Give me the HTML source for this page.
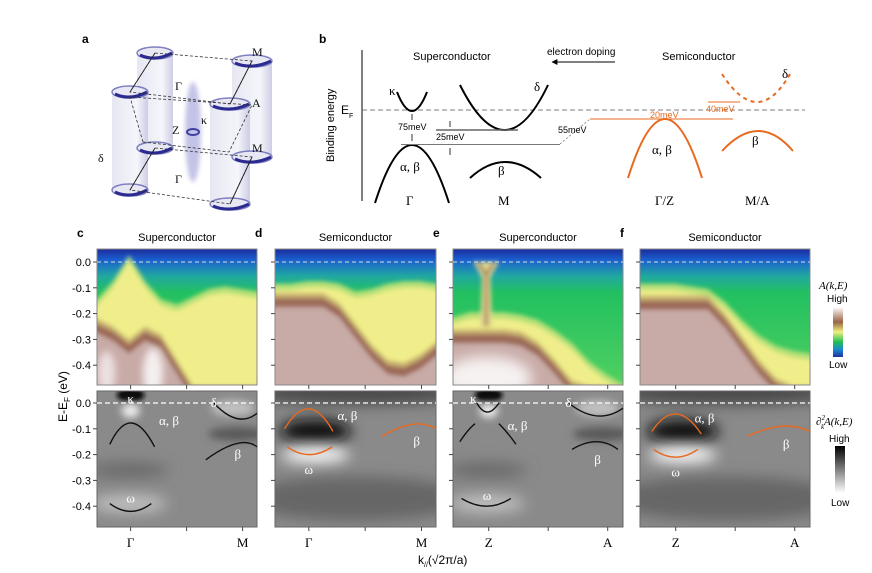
<!DOCTYPE html>
<html><head><meta charset="utf-8">
<style>
html,body{margin:0;padding:0;background:#fff;}
svg{display:block;font-family:"Liberation Sans",sans-serif;}
.serif{font-family:"Liberation Serif","DejaVu Serif",serif;}
</style></head>
<body>
<svg id="fig" width="872" height="573" viewBox="0 0 872 573" xmlns="http://www.w3.org/2000/svg">
<defs>
  <linearGradient id="cbarTop" x1="0" y1="1" x2="0" y2="0">
    <stop offset="0" stop-color="#2030a0"/><stop offset="0.15" stop-color="#1a8ad0"/>
    <stop offset="0.3" stop-color="#20c050"/><stop offset="0.5" stop-color="#f0f080"/>
    <stop offset="0.7" stop-color="#9a6448"/><stop offset="1" stop-color="#ffffff"/>
  </linearGradient>
  <linearGradient id="cbarBot" x1="0" y1="0" x2="0" y2="1">
    <stop offset="0" stop-color="#000"/><stop offset="1" stop-color="#fff"/>
  </linearGradient>
  <linearGradient id="bgTop" x1="0" y1="0" x2="0" y2="1">
    <stop offset="0" stop-color="#1c2a9a"/><stop offset="0.08" stop-color="#1a60d0"/>
    <stop offset="0.2" stop-color="#20a8a0"/><stop offset="0.32" stop-color="#22c060"/><stop offset="1" stop-color="#50d060"/>
  </linearGradient>
  <linearGradient id="cyl" x1="0" y1="0" x2="1" y2="0">
    <stop offset="0" stop-color="#e4e4f2"/><stop offset="0.7" stop-color="#f4f4fa"/><stop offset="1" stop-color="#c8c8e2"/>
  </linearGradient>
  <filter id="blur2" x="-20%" y="-20%" width="140%" height="140%"><feGaussianBlur stdDeviation="2"/></filter>
  <filter id="blur4" x="-100%" y="-200%" width="300%" height="500%"><feGaussianBlur stdDeviation="4"/></filter>
  <filter id="blur7" x="-100%" y="-300%" width="300%" height="700%"><feGaussianBlur stdDeviation="7"/></filter>
  <marker id="arr" viewBox="0 0 10 10" refX="9" refY="5" markerWidth="6" markerHeight="6" orient="auto"><path d="M0,0 L10,5 L0,10 z" fill="#000"/></marker>
</defs>

<!-- Panel a -->
<g>
  <text x="82" y="43" font-size="12" font-weight="bold">a</text>
  <rect x="137" y="52" width="36" height="96" fill="url(#cyl)" opacity="0.9"/>
  <rect x="232" y="60" width="40" height="97" fill="url(#cyl)" opacity="0.9"/>
  <rect x="112" y="92" width="36" height="98" fill="url(#cyl)" opacity="0.9"/>
  <rect x="210" y="104" width="40" height="100" fill="url(#cyl)" opacity="0.9"/>
  <g fill="#e8e8f4" stroke="#5050a8" stroke-width="1.5" stroke-opacity="0.7">
    <ellipse cx="155" cy="53" rx="18" ry="6"/><ellipse cx="252" cy="61" rx="20" ry="6"/>
    <ellipse cx="130" cy="92" rx="18" ry="6"/><ellipse cx="230" cy="104" rx="20" ry="6"/>
    <ellipse cx="155" cy="148" rx="18" ry="6"/><ellipse cx="252" cy="157" rx="20" ry="6"/>
    <ellipse cx="130" cy="190" rx="18" ry="6"/><ellipse cx="230" cy="204" rx="20" ry="6"/>
  </g>
  <g fill="none" stroke="#2a2a90" stroke-width="3">
    <path d="M140,55 Q155,62 172,53"/><path d="M235,63 Q252,70 271,61"/>
    <path d="M115,94 Q130,101 147,92"/><path d="M213,106 Q230,113 249,104"/>
    <path d="M140,150 Q155,157 172,148"/><path d="M235,159 Q252,166 271,157"/>
    <path d="M115,192 Q130,199 147,190"/><path d="M213,206 Q230,213 249,204"/>
  </g>
  <ellipse cx="193" cy="132" rx="8" ry="50" fill="#9c9cd8" opacity="0.6" filter="url(#blur2)"/>
  <ellipse cx="193" cy="132" rx="6" ry="3" fill="none" stroke="#4040a0" stroke-width="2"/>
  <g fill="none" stroke="#333" stroke-width="0.8" stroke-dasharray="3,2">
    <path d="M155,53 L252,61 L230,104 L130,92 Z"/>
    <path d="M155,148 L252,157 L230,204 L130,190 Z"/>
    <path d="M143,142 L130,97 L252,105 L229,152 Z"/>
  </g>
  <g fill="none" stroke="#222" stroke-width="0.9">
    <line x1="155" y1="53" x2="130" y2="92"/><line x1="252" y1="61" x2="230" y2="104"/>
    <line x1="155" y1="148" x2="130" y2="190"/><line x1="252" y1="157" x2="230" y2="204"/>
  </g>
  <g class="serif" font-size="12" fill="#111">
    <text x="252" y="56">M</text><text x="252" y="152">M</text><text x="252" y="107">A</text>
    <text x="175" y="90">Γ</text><text x="175" y="183">Γ</text><text x="172" y="134">Z</text>
    <text x="201" y="124">κ</text><text x="98" y="162">δ</text>
  </g>
</g>

<!-- Panel b -->
<g>
  <text x="319" y="43" font-size="12" font-weight="bold">b</text>
  <line x1="362" y1="50" x2="362" y2="201" stroke="#000" stroke-width="1"/>
  <text transform="translate(334,162) rotate(-90)" font-size="11">Binding energy</text>
  <text x="341" y="114" font-size="12">E<tspan font-size="7" dy="4">F</tspan></text>
  <line x1="362" y1="110" x2="805" y2="110" stroke="#555" stroke-width="0.8" stroke-dasharray="5,3"/>
  <text x="413" y="60" font-size="11">Superconductor</text>
  <text x="547" y="55" font-size="10">electron doping</text>
  <line x1="615" y1="62" x2="552" y2="62" stroke="#000" stroke-width="1" marker-end="url(#arr)"/>
  <text x="662" y="60" font-size="11">Semiconductor</text>
  <g fill="none" stroke="#000" stroke-width="2">
    <path d="M397,92 Q412,130 427,92"/>
    <path d="M375,203 Q412,87 449,203"/>
    <path d="M460,85 Q505,175 548,85"/>
    <path d="M470,178 Q505,146 541,178"/>
  </g>
  <line x1="436" y1="130" x2="518" y2="130" stroke="#666" stroke-width="1.5"/>
  <line x1="401" y1="144.5" x2="560" y2="144.5" stroke="#777" stroke-width="1"/>
  <line x1="560" y1="144" x2="590" y2="119" stroke="#777" stroke-width="0.8" stroke-dasharray="2,2"/>
  <line x1="590" y1="119" x2="733" y2="119" stroke="#e86a20" stroke-width="1"/>
  <line x1="708" y1="102" x2="740" y2="102" stroke="#e86a20" stroke-width="1"/>
  <g font-size="9">
    <text x="398" y="130">75meV</text><text x="436" y="140">25meV</text><text x="558" y="133">55meV</text>
  </g>
  <g font-size="9" fill="#e86a20"><text x="650" y="118">20meV</text><text x="706" y="112">40meV</text></g>
  <g stroke="#000" stroke-width="0.8"><line x1="412" y1="114" x2="412" y2="120"/><line x1="412" y1="134" x2="412" y2="141"/><line x1="450" y1="121" x2="450" y2="127"/><line x1="450" y1="148" x2="450" y2="155"/></g>
  <g fill="none" stroke="#e86a20" stroke-width="2">
    <path d="M628,178 Q665,60 702,178"/>
    <path d="M722,151 Q759,111 793,151"/>
    <path d="M722,74 Q758,130 790,74" stroke-dasharray="4,4"/>
  </g>
  <g class="serif" font-size="13">
    <text x="389" y="95">κ</text><text x="534" y="91">δ</text><text x="400" y="171">α, β</text><text x="498" y="175">β</text>
    <text x="652" y="154">α, β</text><text x="752" y="145">β</text><text x="782" y="78">δ</text>
    <text x="406" y="205">Γ</text><text x="498" y="205">M</text><text x="655" y="205">Γ/Z</text><text x="745" y="205">M/A</text>
  </g>
</g>

<g id="panels"></g>

<!-- Axis titles & colorbars -->
<text transform="translate(67,422) rotate(-90)" font-size="12">E-E<tspan font-size="8" dy="3">F</tspan><tspan dy="-3"> (eV)</tspan></text>
<text x="418" y="564" font-size="12">k<tspan font-size="7" dy="3">//</tspan><tspan dy="-3">(√2π/a)</tspan></text>

<g>
  <text x="819" y="289" font-size="11" class="serif" font-style="italic">A(k,E)</text>
  <text x="827" y="302" font-size="10">High</text>
  <rect x="833" y="307" width="10" height="50" fill="url(#cbarTop)"/>
  <text x="829" y="368" font-size="10">Low</text>
</g>
<g>
  <text x="816" y="425" font-size="11" class="serif" font-style="italic">∂<tspan font-size="7" dy="-5">2</tspan><tspan font-size="7" dx="-4" dy="9">k</tspan><tspan dy="-4">A(k,E)</tspan></text>
  <text x="829" y="442" font-size="10">High</text>
  <rect x="835" y="446" width="10" height="47" fill="url(#cbarBot)"/>
  <text x="831" y="506" font-size="10">Low</text>
</g>

<script>
// ===== data =====
const panelLetters = ["c","d","e","f"];
const panelTitles = ["Superconductor","Semiconductor","Superconductor","Semiconductor"];
const kLabelsLeft = ["Γ","Γ","Z","Z"];
const kLabelsRight = ["M","M","A","A"];
const energyTicks = [0.0,-0.1,-0.2,-0.3,-0.4];
const tickLabels = ["0.0","-0.1","-0.2","-0.3","-0.4"];
const kSamples = [0,0.1,0.2,0.3,0.4,0.5,0.6,0.7,0.8,0.9,1.0];
// yellow onset energy (eV) per panel
const yellowC = [-0.17,-0.10,0.0,-0.10,-0.17,-0.19,-0.16,-0.13,-0.12,-0.13,-0.14];
const yellowD = [-0.11,-0.11,-0.10,-0.10,-0.11,-0.14,-0.13,-0.11,-0.10,-0.10,-0.11];
const yellowE = [-0.24,-0.22,-0.22,-0.22,-0.23,-0.25,-0.29,-0.34,-0.41,-0.46,-0.50];
const yellowF = [-0.11,-0.11,-0.11,-0.12,-0.13,-0.18,-0.25,-0.31,-0.35,-0.37,-0.38];
// brown onset energy (eV) per panel
const brownC = [-0.24,-0.27,-0.32,-0.27,-0.30,-0.40,-0.50,-0.50,-0.50,-0.50,-0.50];
const brownD = [-0.14,-0.14,-0.14,-0.14,-0.18,-0.26,-0.34,-0.40,-0.41,-0.38,-0.33];
const brownE = [-0.28,-0.28,-0.28,-0.28,-0.29,-0.33,-0.40,-0.48,-0.50,-0.50,-0.50];
const brownF = [-0.15,-0.15,-0.15,-0.15,-0.15,-0.22,-0.31,-0.40,-0.47,-0.50,-0.50];
// overlay band curves: [k0,E0,k1,E1,k2,E2] (start, control-peak, end)
const curvesC = [[0.08,-0.16,0.21,0.01,0.36,-0.17],[0.08,-0.39,0.21,-0.45,0.34,-0.39],[0.73,0.0,0.88,-0.10,1.0,-0.04],[0.68,-0.22,0.9,-0.12,1.0,-0.17]];
const curvesD = [[0.06,-0.10,0.21,0.06,0.36,-0.11],[0.075,-0.17,0.21,-0.23,0.355,-0.17],[0.66,-0.13,0.88,-0.05,1.0,-0.10]];
const curvesE = [[0.14,0.0,0.2,-0.07,0.27,0.0],[0.04,-0.15,0.09,-0.10,0.13,-0.08],[0.27,-0.08,0.33,-0.12,0.37,-0.16],[0.05,-0.37,0.2,-0.43,0.34,-0.37],[0.68,0.0,0.85,-0.09,1.0,-0.02],[0.7,-0.18,0.85,-0.12,0.97,-0.18]];
const curvesF = [[0.07,-0.11,0.21,0.03,0.36,-0.12],[0.08,-0.18,0.21,-0.24,0.34,-0.18],[0.63,-0.13,0.85,-0.06,1.0,-0.11]];
const curveColors = ["#111","#e86a20","#111","#e86a20"];

const yellowSets=[yellowC,yellowD,yellowE,yellowF];
const brownSets=[brownC,brownD,brownE,brownF];
const curveSets=[curvesC,curvesD,curvesE,curvesF];
const panelX=[97,275,453,640], panelW=[160,161,170,170];
const topY0=262, botY0=403, pxPerEv=258, topTop=249, topBot=385, botTop=391, botBot=527;
const NS="http://www.w3.org/2000/svg";
const root=document.getElementById("panels");
function mk(tag,attrs,parent){const e=document.createElementNS(NS,tag);for(const k in attrs)e.setAttribute(k,attrs[k]);(parent||root).appendChild(e);return e;}
function xs(i,k){return panelX[i]+k*panelW[i];}
function ysTop(E){return topY0-E*pxPerEv;}
function ysBot(E){return botY0-E*pxPerEv;}
function regionPath(i,arr){
  let d="M"+(xs(i,0)-10)+","+(topBot+20)+" L"+(xs(i,0)-10)+","+ysTop(arr[0]);
  kSamples.forEach((k,j)=>{d+=" L"+xs(i,k)+","+Math.min(ysTop(arr[j]),topBot+20);});
  d+=" L"+(xs(i,1)+10)+","+ysTop(arr[arr.length-1])+" L"+(xs(i,1)+10)+","+(topBot+20)+" Z";return d;
}
panelX.forEach((px,i)=>{
  const w=panelW[i];
  const g=mk("g",{});
  
  
  const lt=mk("text",{x:px-20,y:237,"font-size":12,"font-weight":"bold"},g);lt.textContent=panelLetters[i];
  const tt=mk("text",{x:px+w/2,y:241,"font-size":11,"text-anchor":"middle"},g);tt.textContent=panelTitles[i];
  
  
  // top spectral map
  const cid="clipT"+i;
  const cp=mk("clipPath",{id:cid},g);mk("rect",{x:px,y:topTop,width:w,height:topBot-topTop},cp);
  const tg=mk("g",{"clip-path":"url(#"+cid+")"},g);
  
  
  mk("rect",{x:px,y:topTop,width:w,height:topBot-topTop,fill:"url(#bgTop)"},tg);
  const fg=mk("g",{filter:"url(#blur2)"},tg);
  mk("path",{d:regionPath(i,yellowSets[i].map(v=>v+0.025)),fill:"#b8e078"},fg);
  mk("path",{d:regionPath(i,yellowSets[i]),fill:"#f0ee8a"},fg);
  mk("path",{d:regionPath(i,brownSets[i].map(v=>v+0.02)),fill:"#c8b070"},fg);
  mk("path",{d:regionPath(i,brownSets[i]),fill:"#9c6a58"},fg);
  mk("path",{d:regionPath(i,brownSets[i].map(v=>v-0.035)),fill:"#c8aaa6"},fg);
  if(i===2){
    // narrow V-shaped stalk near Z
    const s=mk("path",{d:"M"+xs(i,0.12)+","+ysTop(0.0)+" L"+xs(i,0.27)+","+ysTop(0.0)+" L"+xs(i,0.22)+","+ysTop(-0.06)+" L"+xs(i,0.23)+","+ysTop(-0.25)+" L"+xs(i,0.16)+","+ysTop(-0.25)+" L"+xs(i,0.17)+","+ysTop(-0.06)+" Z",fill:"#e0d890"},fg);
    mk("path",{d:"M"+xs(i,0.15)+","+ysTop(-0.005)+" L"+xs(i,0.195)+","+ysTop(-0.05)+" L"+xs(i,0.24)+","+ysTop(-0.005),fill:"none",stroke:"#a07a60","stroke-width":3},fg);
    mk("line",{x1:xs(i,0.195),y1:ysTop(-0.05),x2:xs(i,0.195),y2:ysTop(-0.25),stroke:"#c0a070","stroke-width":5},fg);
    mk("ellipse",{cx:xs(i,0.2),cy:ysTop(-0.45),rx:45,ry:22,fill:"#f6f2f2",filter:"url(#blur7)"},tg);
  }
  if(i===0){mk("ellipse",{cx:xs(i,0.35),cy:ysTop(-0.43),rx:10,ry:25,fill:"#f4f0f0",filter:"url(#blur4)"},tg);mk("ellipse",{cx:xs(i,0.06),cy:ysTop(-0.43),rx:9,ry:22,fill:"#ece0e0",filter:"url(#blur4)"},tg);}
  mk("rect",{x:px,y:topTop,width:w,height:topBot-topTop,fill:"none",stroke:"#888","stroke-width":1},g);
  mk("line",{x1:px,x2:px+w,y1:topY0,y2:topY0,stroke:"#ddd","stroke-width":1,"stroke-dasharray":"4,3"},g);
  // bottom second-derivative map
  const cid2="clipB"+i;
  const cp2=mk("clipPath",{id:cid2},g);mk("rect",{x:px,y:botTop,width:w,height:botBot-botTop},cp2);
  const bg=mk("g",{"clip-path":"url(#"+cid2+")"},g);
  
  
  mk("rect",{x:px,y:botTop,width:w,height:botBot-botTop,fill:"#8a8a8a"},bg);
  if(i===1||i===3){
    mk("ellipse",{cx:xs(i,0.5),cy:botTop+2,rx:w*0.7,ry:12,fill:"#4a4a4a",filter:"url(#blur7)"},bg);
    mk("ellipse",{cx:xs(i,0.25),cy:ysBot(-0.11),rx:36,ry:12,fill:"#0a0a0a",filter:"url(#blur7)"},bg);
    mk("ellipse",{cx:xs(i,0.25),cy:ysBot(-0.2),rx:34,ry:9,fill:"#f4f4f4",filter:"url(#blur7)"},bg);
    mk("ellipse",{cx:xs(i,0.5),cy:ysBot(-0.37),rx:w*0.7,ry:22,fill:"#505050",opacity:0.6,filter:"url(#blur7)"},bg);
  } else {
    mk("ellipse",{cx:xs(i,0.21),cy:botTop+4,rx:14,ry:7,fill:"#111",filter:"url(#blur2)"},bg);
    mk("ellipse",{cx:xs(i,0.21),cy:ysBot(-0.03),rx:9,ry:7,fill:"#eee",filter:"url(#blur4)"},bg);
    mk("ellipse",{cx:xs(i,0.2),cy:ysBot(-0.39),rx:38,ry:9,fill:"#c0c0c0",filter:"url(#blur7)"},bg);
    mk("ellipse",{cx:xs(i,0.2),cy:ysBot(-0.26),rx:40,ry:8,fill:"#6a6a6a",filter:"url(#blur7)"},bg);
    mk("ellipse",{cx:xs(i,0.85),cy:ysBot(-0.02),rx:22,ry:8,fill:"#c0c0c0",filter:"url(#blur4)"},bg);
    mk("ellipse",{cx:xs(i,0.88),cy:ysBot(-0.12),rx:30,ry:7,fill:"#5a5a5a",filter:"url(#blur4)"},bg);
  }
  mk("rect",{x:px,y:botTop,width:w,height:botBot-botTop,fill:"none",stroke:"#666","stroke-width":1},g);
  mk("line",{x1:px,x2:px+w,y1:botY0,y2:botY0,stroke:"#fff","stroke-width":1.2,"stroke-dasharray":"5,3"},g);
  curveSets[i].forEach(c=>{
    const p=mk("path",{d:"M"+xs(i,c[0])+","+ysBot(c[1])+" Q"+xs(i,c[2])+","+ysBot(c[3])+" "+xs(i,c[4])+","+ysBot(c[5]),fill:"none",stroke:curveColors[i],"stroke-width":1.4},g);
    
    
  });
  // ticks
  energyTicks.forEach((E,j)=>{
    mk("line",{x1:px-4,x2:px,y1:ysTop(E),y2:ysTop(E),stroke:"#444"},g);
    mk("line",{x1:px-4,x2:px,y1:ysBot(E),y2:ysBot(E),stroke:"#444"},g);
    if(i===0){
      const a=mk("text",{x:px-6,y:ysTop(E)+4,"font-size":11,"text-anchor":"end"},g);a.textContent=tickLabels[j];
      
      
      const b=mk("text",{x:px-6,y:ysBot(E)+4,"font-size":11,"text-anchor":"end"},g);b.textContent=tickLabels[j];
      
      
    }
  });
  [0.21,0.56,0.91].forEach(k=>{mk("line",{x1:xs(i,k),x2:xs(i,k),y1:botBot,y2:botBot+4,stroke:"#444"},g);mk("line",{x1:xs(i,k),x2:xs(i,k),y1:topBot,y2:topBot+4,stroke:"#444"},g);});
  const kl=mk("text",{x:xs(i,0.21),y:547,"font-size":13,"text-anchor":"middle",class:"serif"},g);kl.textContent=kLabelsLeft[i];
  
  
  const kr=mk("text",{x:xs(i,0.91),y:547,"font-size":13,"text-anchor":"middle",class:"serif"},g);kr.textContent=kLabelsRight[i];
  
  
});
// band labels in bottom panels
const bandLabels=[[0,0.21,0.015,"κ","#fff"],[0,0.45,-0.07,"α, β","#fff"],[0,0.73,0.0,"δ","#fff"],[0,0.88,-0.2,"β","#fff"],[0,0.21,-0.37,"ω","#fff"],
[1,0.45,-0.05,"α, β","#fff"],[1,0.88,-0.15,"β","#fff"],[1,0.21,-0.26,"ω","#fff"],
[2,0.12,0.015,"κ","#fff"],[2,0.38,-0.09,"α, β","#fff"],[2,0.68,0.0,"δ","#fff"],[2,0.85,-0.22,"β","#fff"],[2,0.2,-0.36,"ω","#fff"],
[3,0.38,-0.06,"α, β","#fff"],[3,0.86,-0.16,"β","#fff"],[3,0.21,-0.27,"ω","#fff"]];
bandLabels.forEach(b=>{
  const t=mk("text",{x:xs(b[0],b[1]),y:ysBot(b[2])+4,"font-size":13,fill:b[4],"text-anchor":"middle",class:"serif"});
  t.textContent=b[3];
  
  
});
</script>
</svg>
</body></html>
